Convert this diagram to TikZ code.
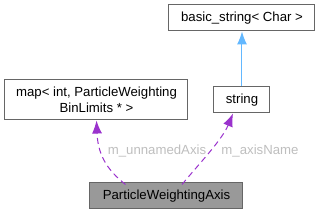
\documentclass[tikz,border=0pt]{standalone}
\usepackage{fontspec}
\setmainfont{Liberation Sans}
\usepackage{xcolor}
\usepackage{tikz}
\usetikzlibrary{arrows.meta,positioning}
\definecolor{boxline}{RGB}{102,102,102}
\definecolor{focusfill}{RGB}{153,153,153}
\definecolor{usepurple}{RGB}{154,50,205}
\definecolor{inheritblue}{RGB}{99,184,255}
\definecolor{labelgrey}{RGB}{190,190,190}

\begin{document}
\begin{tikzpicture}[x=1pt,y=-1pt,font=\fontsize{13.2}{15.5}\selectfont,
  cls/.style={draw=boxline,fill=white,line width=1pt,inner sep=0pt,align=center},
  usage/.style={usepurple,line width=1pt,dash pattern=on 6pt off 4pt,-{Latex[length=13pt,width=10pt]}},
  inherit/.style={inheritblue,line width=1pt,-{Latex[length=13pt,width=10pt]}},
  lbl/.style={labelgrey,inner sep=1pt}]
\useasboundingbox (0,0) rectangle (317,213);
\node[cls,minimum width=146pt,minimum height=26pt] (bstr) at (242,18) {basic\_string< Char >};
\node[cls,minimum width=56pt,minimum height=26pt] (str) at (242,100) {string};
\node[cls,minimum width=183pt,minimum height=40pt] (map) at (96.5,100) {map< int, ParticleWeighting\\BinLimits * >};
\node[cls,fill=focusfill,minimum width=153pt,minimum height=26pt] (axis) at (166.5,196) {ParticleWeightingAxis};
\draw[inherit] (str.north) -- (bstr.south);
% members of the axis class
\draw[usage] ([xshift=-41pt,yshift=-2pt]axis.north) .. controls (110,172) and (98,158) .. (map.south);
\draw[usage] ([xshift=15.5pt,yshift=-2pt]axis.north) .. controls (198,165) and (222,140) .. ([xshift=-9pt]str.south);
\node[lbl] (lblA) at (157,151) {m\_unnamedAxis};
\node[lbl] (lblB) at (260,151) {m\_axisName};
\end{tikzpicture}
\end{document}
